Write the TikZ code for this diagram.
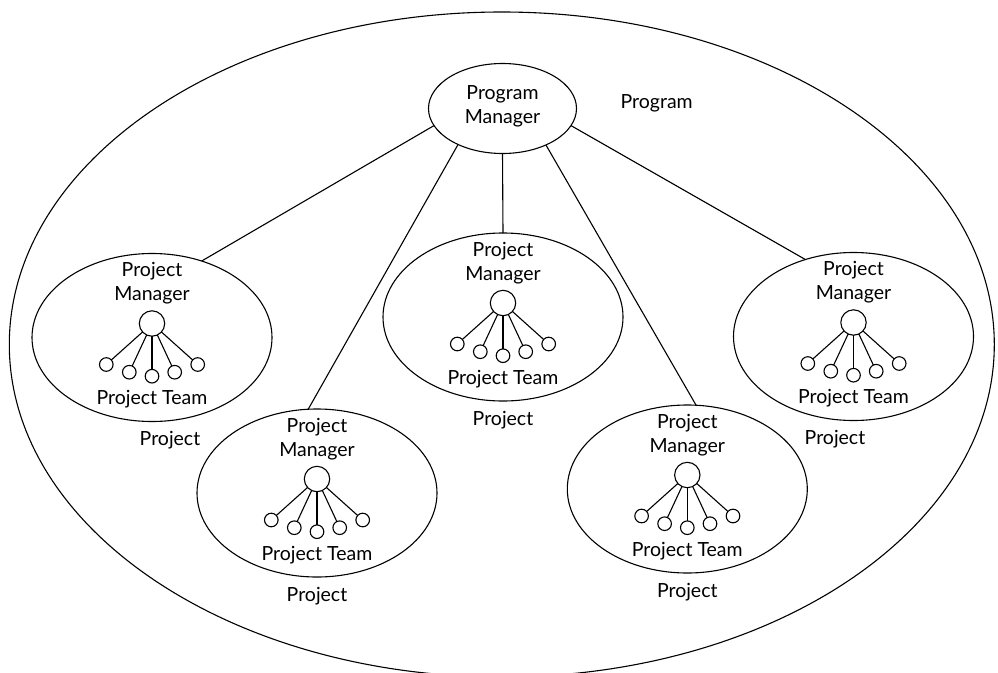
\documentclass[tikz,border=0pt]{standalone}
\usepackage{fontspec}
\setmainfont{Lato}
\usetikzlibrary{shapes.geometric}
\begin{document}
\begin{tikzpicture}[x=1pt,y=-1pt,
  line width=1.1pt,
  every node/.style={font=\fontsize{19.5}{24}\selectfont},
  bubble/.style={ellipse, draw, inner sep=0pt, outer sep=0pt},
  projbox/.style={bubble, minimum width=240pt, minimum height=168pt},
  lead/.style={circle, draw, inner sep=0pt, outer sep=0pt, minimum size=25.4pt},
  member/.style={circle, draw, inner sep=0pt, outer sep=0pt, minimum size=13.6pt}
]
\useasboundingbox (0,0) rectangle (998,672);
\clip (0,0) rectangle (998,672);

% the program as a whole
\draw (501.8,344.5) ellipse [x radius=492.5pt, y radius=332.5pt];
\node[bubble, minimum width=148pt, minimum height=90pt] (pm) at (502.5,108.5) {};
\node[align=center] (pm-text) at (502.5,105.8) {Program\\Manager};
\node (prog-label) at (656.7,103.3) {Program};

% one bubble per project: manager, team members and captions
\foreach \n/\cx/\cy/\lx in {a/152/337.5/18, b/317/493/0, c/503/317/0, d/687.3/489/0, e/853.5/336.5/-18.5} {
  \node[projbox] (\n) at (\cx,\cy) {};
  \node[align=center] (\n-title) at (\cx,\cy-54) {Project\\Manager};
  \node[lead] (\n-pm) at (\cx,\cy-14) {};
  \foreach \k/\dx/\dy in {1/-45.7/27, 2/-22.7/34.7, 3/0/38.7, 4/22.7/34.7, 5/45.7/27} {
    \node[member] (\n-m\k) at (\cx+\dx,\cy+\dy) {};
    \draw (\n-pm) -- (\n-m\k);
  }
  \node (\n-team) at (\cx,\cy+62) {Project Team};
  \node (\n-label) at (\cx+\lx,\cy+103) {Project};
}

% program manager to each project
\draw (pm.194.2) -- (a.57.6);
\draw (pm.219.3) -- (b.96.9);
\draw (pm.270) -- (c.90);
\draw (pm.320.9) -- (d.84.7);
\draw (pm.346.5) -- (e.122.8);
\end{tikzpicture}
\end{document}
